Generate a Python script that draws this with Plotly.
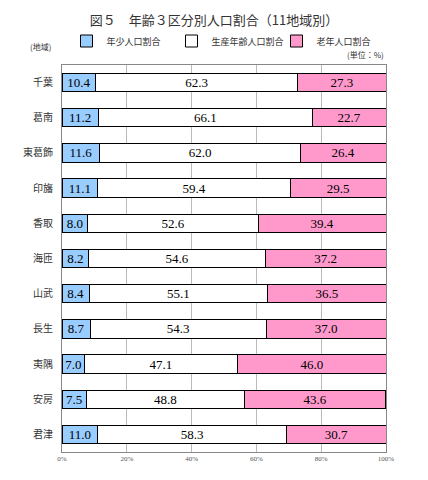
import plotly.graph_objects as go

regions = ["千葉", "葛南", "東葛飾", "印旛", "香取", "海匝", "山武", "長生", "夷隅", "安房", "君津"]
young = [10.4, 11.2, 11.6, 11.1, 8.0, 8.2, 8.4, 8.7, 7.0, 7.5, 11.0]
working = [62.3, 66.1, 62.0, 59.4, 52.6, 54.6, 55.1, 54.3, 47.1, 48.8, 58.3]
old = [27.3, 22.7, 26.4, 29.5, 39.4, 37.2, 36.5, 37.0, 46.0, 43.6, 30.7]
series_names = ["年少人口割合", "生産年齢人口割合", "老年人口割合"]
colors = ["#99CCFF", "#FFFFFF", "#FF99CC"]
xticks = [0, 20, 40, 60, 80, 100]
xticklabels = ["0%", "20%", "40%", "60%", "80%", "100%"]

font = "Noto Sans CJK JP"
numfont = "Liberation Serif"
fig = go.Figure()
for name, vals, c in zip(series_names, [young, working, old], colors):
    fig.add_trace(go.Bar(
        y=regions, x=vals, name=name, orientation="h",
        marker=dict(color=c, line=dict(color="#000000", width=1)),
        text=[f"{v:.1f}" for v in vals], textposition="inside",
        insidetextanchor="middle", textangle=0,
        textfont=dict(family=numfont, size=13, color="#000000"),
        hoverinfo="skip",
    ))

fig.update_layout(
    width=428, height=480,
    barmode="stack", bargap=0.48,
    paper_bgcolor="white", plot_bgcolor="white",
    margin=dict(l=62, r=42, t=65, b=28),
    font=dict(family=font, color="#000000"),
    title=dict(text="図５　年齢３区分別人口割合（11地域別）", x=0.5, xanchor="center",
               y=0.958, yanchor="middle", font=dict(size=13, family=font, color="#333333")),
    legend=dict(orientation="h", x=0.5, xanchor="center", y=1.062, yanchor="middle",
                font=dict(size=9, family=font, color="#333333"), itemwidth=30,
                entrywidth=60, traceorder="normal",
                tracegroupgap=0, bgcolor="rgba(0,0,0,0)"),
    uniformtext=dict(minsize=13, mode="show"),
    showlegend=True,
)
fig.update_xaxes(range=[0, 100], tickvals=xticks, ticktext=xticklabels,
                 showgrid=True, gridcolor="#BBBBBB", gridwidth=1,
                 showline=True, linecolor="#888888", mirror=True,
                 ticks="", tickfont=dict(size=7, family=numfont, color="#555555"),
                 zeroline=False, fixedrange=True)
fig.update_yaxes(categoryorder="array", categoryarray=regions[::-1],
                 showline=True, linecolor="#888888", mirror=True,
                 ticks="", tickfont=dict(size=10, family=font, color="#333333"),
                 ticklabelstandoff=6, fixedrange=True)
fig.add_annotation(text="(地域)", xref="paper", yref="paper", x=-0.105, y=1.047,
                   xanchor="left", yanchor="middle", showarrow=False,
                   font=dict(size=8, family=font, color="#333333"))
fig.add_annotation(text="(単位：%)", xref="paper", yref="paper", x=1.0, y=1.027,
                   xanchor="right", yanchor="middle", showarrow=False,
                   font=dict(size=8, family=font, color="#333333"))
fig.write_html("out.html")
